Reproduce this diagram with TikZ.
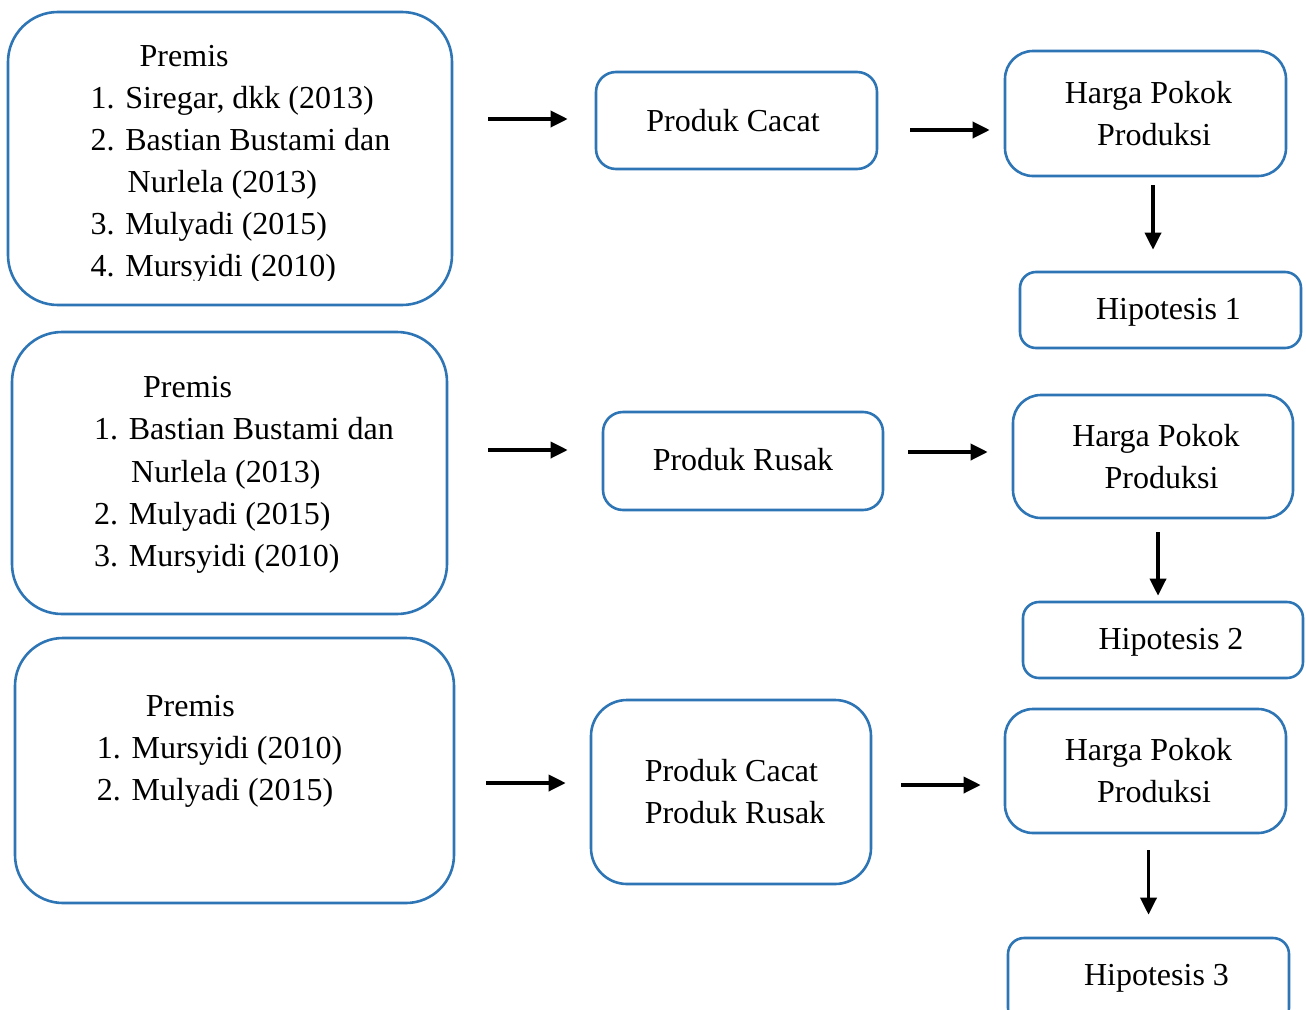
\documentclass[tikz,border=0pt]{standalone}
\usepackage{fontspec}
\setmainfont{Liberation Serif}
\usetikzlibrary{arrows.meta}
\definecolor{boxblue}{RGB}{46,117,182}
\begin{document}
\begin{tikzpicture}[x=1pt,y=-1pt,
  box/.style={draw=boxblue, line width=2.6pt, rounded corners=#1, inner sep=0pt, align=center, font=\fontsize{32}{42}\selectfont},
  arr/.style={line width=3.5pt, -{Triangle[length=17pt,width=16pt]}},
  txt/.style={inner sep=0pt, anchor=base west, font=\fontsize{32}{42}\selectfont}]
\useasboundingbox (0,0) rectangle (1306,1009);
\clip (0,0) rectangle (1306,1009);

% premise boxes
\node[box=50, minimum width=444, minimum height=293] (p1) at (230,158.5) {};
\node[box=50, minimum width=435, minimum height=282] (p2) at (229.5,473) {};
\node[box=48, minimum width=439, minimum height=265] (p3) at (234.5,770.5) {};

\begin{scope}
\clip (0,0) rectangle (1306,280);
\node[txt] (t1) at (90.5,66.7) {\begin{tabular}[t]{@{}l@{}}\hspace*{49pt}Premis\\1. Siregar, dkk (2013)\\2. Bastian Bustami dan\\\hspace*{37pt}Nurlela (2013)\\3. Mulyadi (2015)\\4. Mursyidi (2010)\end{tabular}};
\end{scope}
\node[txt, font=\fontsize{32}{42.4}\selectfont] (t2) at (94,397.3) {\begin{tabular}[t]{@{}l@{}}\hspace*{49pt}Premis\\1. Bastian Bustami dan\\\hspace*{37pt}Nurlela (2013)\\2. Mulyadi (2015)\\3. Mursyidi (2010)\end{tabular}};
\node[txt] (t3) at (96.7,716) {\begin{tabular}[t]{@{}l@{}}\hspace*{49pt}Premis\\1. Mursyidi (2010)\\2. Mulyadi (2015)\end{tabular}};

% product boxes
\node[box=20, minimum width=281, minimum height=97] (pc) at (736.5,120.5) {\hspace*{-7pt}Produk Cacat};
\node[box=20, minimum width=280, minimum height=98, text height=22pt, text depth=4pt] (pr) at (743,461) {Produk Rusak};
\node[box=36, minimum width=280, minimum height=184, align=left] (pcr) at (731,792) {\hspace*{8pt}Produk Cacat\\\hspace*{8pt}Produk Rusak};

% HPP boxes
\node[box=28, minimum width=281, minimum height=125] (h1) at (1145.5,113.5) {\hspace*{6pt}Harga Pokok\\\hspace*{17pt}Produksi};
\node[box=28, minimum width=280, minimum height=123] (h2) at (1153,456.5) {\hspace*{6pt}Harga Pokok\\\hspace*{17pt}Produksi};
\node[box=28, minimum width=281, minimum height=124] (h3) at (1145.5,771) {\hspace*{6pt}Harga Pokok\\\hspace*{17pt}Produksi};

% hypothesis boxes
\node[box=16, minimum width=281, minimum height=76, text height=22pt, text depth=4pt] (y1) at (1160.5,310) {\hspace*{16pt}Hipotesis 1};
\node[box=16, minimum width=280, minimum height=76, text height=22pt, text depth=4pt] (y2) at (1163,640) {\hspace*{16pt}Hipotesis 2};
\node[box=16, minimum width=281, minimum height=86, text height=22pt, text depth=14pt] (y3) at (1148.5,981) {\hspace*{16pt}Hipotesis 3};

% arrows row 1
\draw[arr, shorten <=35pt, shorten >=27pt] ([yshift=39.5pt]p1.east) -- ([yshift=1.5pt]pc.west);
\draw[arr, shorten <=32pt, shorten >=14pt] ([yshift=-9.5pt]pc.east) -- ([yshift=-16.5pt]h1.west);
\draw[arr, shorten <=8pt, shorten >=21pt] ([xshift=7.5pt]h1.south) -- ([xshift=-7.5pt]y1.north);

% arrows row 2
\draw[arr, shorten <=40pt, shorten >=34pt] ([yshift=23pt]p2.east) -- ([yshift=11pt]pr.west);
\draw[arr, shorten <=24pt, shorten >=24pt] ([yshift=9pt]pr.east) -- ([yshift=4.5pt]h2.west);
\draw[arr, shorten <=13pt, shorten >=5pt] ([xshift=5pt]h2.south) -- ([xshift=-5pt]y2.north);

% arrows row 3
\draw[arr, shorten <=31pt, shorten >=24pt] ([yshift=-12.5pt]p3.east) -- ([yshift=9pt]pcr.west);
\draw[arr, shorten <=29pt, shorten >=23pt] ([yshift=7pt]pcr.east) -- ([yshift=-14pt]h3.west);
\draw[arr, shorten <=16pt, shorten >=22pt] ([xshift=3pt]h3.south) -- (y3.north);
\end{tikzpicture}
\end{document}
